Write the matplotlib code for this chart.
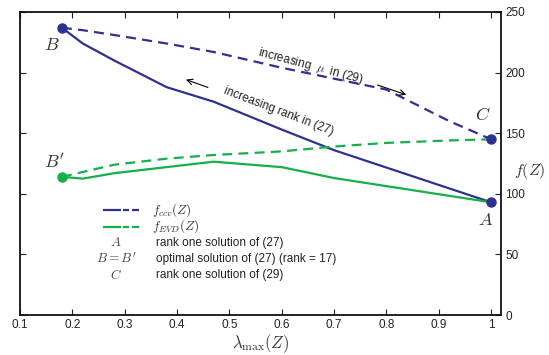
import numpy as np
import matplotlib.pyplot as plt

plt.rcParams['font.family'] = ['Liberation Sans', 'DejaVu Sans']
plt.rcParams['mathtext.fontset'] = 'cm'

# rank path of (27): solutions from the optimum (B, rank 17) down to rank one (A)
lam_rank = [0.18, 0.22, 0.28, 0.38, 0.47, 0.60, 0.70, 1.00]
fccv_rank = [237, 224, 210, 188, 176, 153, 136, 93]
fevd_rank = [114, 112.5, 117, 122, 126.5, 122, 113, 93]

# mu path of (29): from B to the rank one solution C
lam_mu = [0.18, 0.22, 0.28, 0.38, 0.47, 0.60, 0.70, 0.80, 0.92, 1.00]
fccv_mu = [237, 235, 231, 224, 217, 204, 195, 186, 160, 145]
fevd_mu = [114, 118, 124, 129, 132, 135, 139, 142, 144, 145]

xticks = [0.1, 0.2, 0.3, 0.4, 0.5, 0.6, 0.7, 0.8, 0.9, 1.0]
xticklabels = ['0.1', '0.2', '0.3', '0.4', '0.5', '0.6', '0.7', '0.8', '0.9', '1']
yticks = [0, 50, 100, 150, 200, 250]

blue = '#2e3192'
green = '#13b04b'
dash = (0, (4.5, 2.8))

fig = plt.figure(figsize=(5.49, 3.55), dpi=100)
ax = fig.add_axes([20 / 549, 1 - 315 / 355, 481 / 549, 303 / 355])

ax.plot(lam_rank, fccv_rank, color=blue, lw=1.6)
ax.plot(lam_mu, fccv_mu, color=blue, lw=1.6, linestyle=dash)
ax.plot(lam_rank, fevd_rank, color=green, lw=1.6)
ax.plot(lam_mu, fevd_mu, color=green, lw=1.6, linestyle=dash)

ax.plot([lam_rank[0], lam_rank[-1], lam_mu[-1]],
        [fccv_rank[0], fccv_rank[-1], fccv_mu[-1]],
        'o', color=blue, ms=6.5, zorder=5)
ax.plot([lam_rank[0]], [fevd_rank[0]], 'o', color=green, ms=6.5, zorder=5)

ax.set_xlim(0.1, 1.019)
ax.set_ylim(0, 250)
ax.set_xticks(xticks)
ax.set_xticklabels(xticklabels)
ax.set_yticks(yticks)
ax.tick_params(direction='in', top=True, right=True, left=True,
               labelleft=False, labelright=True, labelsize=8.5,
               length=4, width=0.8, pad=3, colors='#222222')
for s in ax.spines.values():
    s.set_linewidth(1.3)
    s.set_color('#111111')

ax.set_xlabel(r'$\lambda_{\max}(Z)$', fontsize=12, labelpad=1, color='#333333')
ax.yaxis.set_label_position('right')
ax.set_ylabel(r'$f(Z)$', fontsize=11.5, rotation=0, labelpad=2,
              color='#333333', va='center', ha='left')
ax.yaxis.set_label_coords(1.028, 0.475)

# point labels
pt = dict(fontsize=13, color='#333333', ha='center', va='center')
ax.text(0.161, 222, r'$B$', **pt)
ax.text(0.165, 126, r"$B'$", **pt)
ax.text(0.985, 165, r'$C$', **pt)
ax.text(0.989, 78, r'$A$', **pt)

# direction annotations
ax.text(0.595, 168, 'increasing rank in (27)', rotation=-21, fontsize=8.5,
        ha='center', va='center', color='#222222')
ax.annotate('', xy=(0.412, 195), xytext=(0.464, 187),
            arrowprops=dict(arrowstyle='->', color='black', lw=0.8))
ax.text(0.655, 205, r'increasing  $\mu$  in (29)', rotation=-15, fontsize=8.5,
        ha='center', va='center', color='#222222')
ax.annotate('', xy=(0.843, 181), xytext=(0.778, 190.5),
            arrowprops=dict(arrowstyle='->', color='black', lw=0.8))

# legend drawn in axes coordinates: a solid piece followed by two dashes
tr = ax.transAxes
pieces = [(0.1726, 0.210), (0.2145, 0.2266), (0.2328, 0.2474)]
for yy, col, lab in [(0.347, blue, r'$f_{ccv}(Z)$'), (0.292, green, r'$f_{EVD}(Z)$')]:
    for x0, x1 in pieces:
        ax.plot([x0, x1], [yy, yy], color=col, lw=1.6, transform=tr,
                solid_capstyle='butt')
    ax.text(0.274, yy, lab, fontsize=9.5, color='#333333', va='center', transform=tr)

rows = [(0.239, r'$A$', 'rank one solution of (27)'),
        (0.185, r"$B=B'$", 'optimal solution of (27) (rank = 17)'),
        (0.132, r'$C$', 'rank one solution of (29)')]
for yy, sym, desc in rows:
    ax.text(0.2, yy, sym, fontsize=9.5, color='#444444', va='center', ha='center', transform=tr)
    ax.text(0.282, yy, desc, fontsize=8.5, color='#222222', va='center', transform=tr)

fig.savefig('out.png', dpi=100)
